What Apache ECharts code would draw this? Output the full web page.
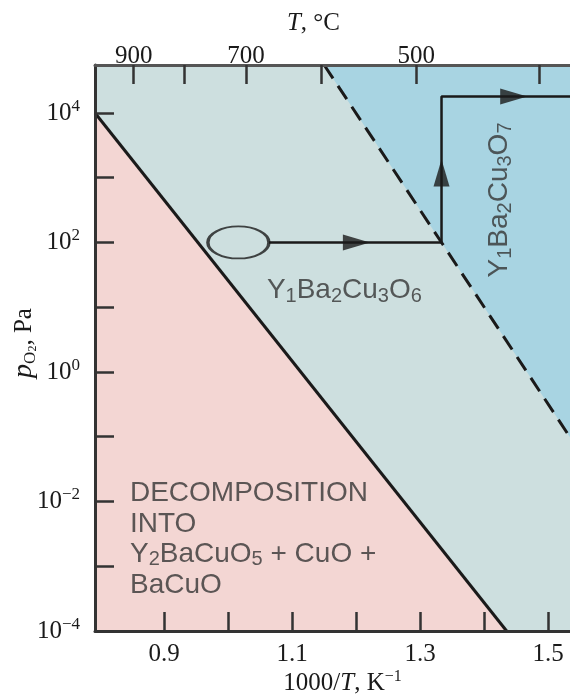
<!DOCTYPE html>
<html>
<head>
<meta charset="utf-8">
<script src="https://cdn.jsdelivr.net/npm/echarts@6/dist/echarts.min.js"></script>
<style>
  html, body { margin: 0; padding: 0; background: #fff; }
  #chart { width: 570px; height: 697px; }
</style>
</head>
<body>
<div id="chart"></div>
<script>
// Axis extents: reciprocal temperature 1000/T (K^-1) and oxygen partial pressure (Pa)
const invTRange = [0.792, 1.534];
const pressureRange = [1e-4, 5.5e4];

// Bottom axis: 1000/T ticks and labelled ticks
const invTTicks = [0.9, 1.0, 1.1, 1.2, 1.3, 1.4, 1.5];
const invTLabels = [0.9, 1.1, 1.3, 1.5];

// Top axis: temperature in °C
const tempTicksC = [900, 800, 700, 600, 500, 400];
const tempLabelsC = [900, 700, 500];

// Phase boundaries, [1000/T, p(O2) in Pa]
const decompositionBoundary = [[0.792, 1e4], [1.435, 1e-4]];
const oxidationBoundary = [[1.15, 5.5e4], [1.3333, 100], [1.534, 0.098]];

// Processing route: start region, path and direction arrows
const startRegion = [[1.016, 100]];
const routePath = [[1.0637, 100], [1.3333, 100], [1.3333, 17870], [1.534, 17870]];
const arrowsRight = [[1.2003, 100], [1.446, 17870]];
const arrowsUp = [[1.3333, 1183]];

// Region label anchors
const labelO6 = [1.0605, 18.4];
const labelO7 = [1.4243, 453];
const labelDecomp = [0.8466, 0.00259];

const SERIF = '"Liberation Serif", "Times New Roman", serif';
const SANS = '"Liberation Sans", Arial, sans-serif';
const INK = '#1a1a1a';
const AXIS = '#333';
const TEXT_IN = '#353535';

const PINK = '#f3d6d3';
const TEAL = '#cddfdf';
const BLUE = '#a8d4e2';

const inText = {
  m: { fontFamily: SANS, fontSize: 28, color: TEXT_IN, lineHeight: 32 },
  s: { fontFamily: SANS, fontSize: 20, color: TEXT_IN, lineHeight: 20, verticalAlign: 'bottom' }
};

const chart = echarts.init(document.getElementById('chart'), null, { renderer: 'canvas' });

chart.setOption({
  animation: false,
  backgroundColor: '#fff',
  grid: {
    left: 95, right: 0, top: 65, bottom: 66,
    outerBoundsMode: 'none',
    containLabel: false,
    show: true, backgroundColor: TEAL, borderWidth: 0
  },
  xAxis: [
    {
      type: 'value',
      position: 'bottom',
      min: invTRange[0], max: invTRange[1],
      z: 10,
      axisLine: { show: true, lineStyle: { color: AXIS, width: 3 } },
      axisTick: { show: true, inside: true, length: 19, customValues: invTTicks,
                  lineStyle: { color: AXIS, width: 2.5 } },
      axisLabel: { customValues: invTLabels, margin: 11,
                   formatter: v => v.toFixed(1),
                   fontFamily: SERIF, fontSize: 25, color: INK },
      splitLine: { show: false },
      name: '{n|1000/}{i|T}{n|, K}{e|\u22121}',
      nameLocation: 'middle',
      nameMoveOverlap: false,
      nameGap: 38,
      nameTextStyle: {
        padding: [0, 0, 0, 20],
        rich: {
          n: { fontFamily: SERIF, fontSize: 25, color: INK, lineHeight: 28 },
          i: { fontFamily: SERIF, fontSize: 25, fontStyle: 'italic', color: INK, lineHeight: 28 },
          e: { fontFamily: SERIF, fontSize: 16, color: INK, lineHeight: 16, verticalAlign: 'top' }
        }
      }
    },
    {
      type: 'value',
      position: 'top',
      min: invTRange[0], max: invTRange[1],
      z: 10,
      axisLine: { show: true, lineStyle: { color: '#555', width: 3 } },
      axisTick: { show: true, inside: true, length: 19,
                  customValues: tempTicksC.map(t => 1000 / (t + 273)),
                  lineStyle: { color: AXIS, width: 2.5 } },
      axisLabel: { customValues: tempLabelsC.map(t => 1000 / (t + 273)), margin: -4,
                   formatter: v => String(Math.round(1000 / v - 273)),
                   fontFamily: SERIF, fontSize: 25, color: INK },
      splitLine: { show: false },
      name: '{i|T}{n|, \u00B0C}',
      nameLocation: 'middle',
      nameMoveOverlap: false,
      nameGap: 29,
      nameTextStyle: {
        padding: [0, 38, 0, 0],
        rich: {
          n: { fontFamily: SERIF, fontSize: 25, color: INK },
          i: { fontFamily: SERIF, fontSize: 25, fontStyle: 'italic', color: INK }
        }
      }
    }
  ],
  yAxis: {
    type: 'log',
    logBase: 10,
    min: pressureRange[0], max: pressureRange[1],
    z: 10,
    axisLine: { show: true, lineStyle: { color: AXIS, width: 3 } },
    axisTick: { show: true, inside: true, length: 19, lineStyle: { color: AXIS, width: 2.5 } },
    axisLabel: {
      margin: 15,
      showMaxLabel: false,
      formatter: v => {
        const e = Math.log10(v);
        const r = Math.round(e);
        if (Math.abs(e - r) > 1e-6 || r % 2 !== 0) return '';
        return '{b|10}{e|' + (r < 0 ? '\u2212' + (-r) : r) + '}';
      },
      rich: {
        b: { fontFamily: SERIF, fontSize: 25, color: INK, lineHeight: 30 },
        e: { fontFamily: SERIF, fontSize: 17, color: INK, lineHeight: 17, verticalAlign: 'top' }
      }
    },
    splitLine: { show: false },
    minorTick: { show: false },
    name: '{i|p}{s|O}{ss|2}{n|, Pa}',
    nameLocation: 'middle',
    nameMoveOverlap: false,
    nameGap: 56,
    nameTextStyle: {
      padding: [0, 0, 0, 10],
      rich: {
        i: { fontFamily: SERIF, fontSize: 28, fontStyle: 'italic', color: INK, lineHeight: 30 },
        s: { fontFamily: SERIF, fontSize: 17, color: INK, lineHeight: 22, verticalAlign: 'bottom' },
        ss: { fontFamily: SERIF, fontSize: 12, color: INK, lineHeight: 14, verticalAlign: 'bottom' },
        n: { fontFamily: SERIF, fontSize: 25, color: INK, lineHeight: 30 }
      }
    }
  },
  series: [
    {
      // decomposition region below the solid boundary
      type: 'line',
      data: decompositionBoundary,
      symbol: 'none',
      lineStyle: { color: INK, width: 3 },
      areaStyle: { color: PINK, opacity: 1, origin: 'start' },
      z: 2,
      silent: true
    },
    {
      // Y1Ba2Cu3O7 region above the dashed boundary
      type: 'line',
      data: oxidationBoundary,
      symbol: 'none',
      lineStyle: { color: INK, width: 3, type: [16, 9] },
      areaStyle: { color: BLUE, opacity: 1, origin: 'end' },
      z: 2,
      silent: true
    },
    {
      type: 'line',
      data: routePath,
      symbol: 'none',
      lineStyle: { color: INK, width: 2.5 },
      z: 4,
      silent: true
    },
    {
      type: 'scatter',
      data: startRegion,
      symbol: 'circle',
      symbolSize: [61, 32],
      itemStyle: { color: 'rgba(0,0,0,0)', borderColor: INK, borderWidth: 2.5 },
      z: 5,
      silent: true
    },
    {
      type: 'scatter',
      data: arrowsRight.map(p => ({ value: p, symbolRotate: -90 }))
        .concat(arrowsUp.map(p => ({ value: p, symbolRotate: 0 }))),
      symbol: 'triangle',
      symbolSize: [16, 27],
      itemStyle: { color: INK },
      z: 5,
      silent: true
    },
    {
      type: 'scatter',
      symbolSize: 0,
      z: 6,
      silent: true,
      data: [
        {
          value: labelO6,
          label: { show: true, position: 'right', distance: 0,
                   formatter: '{m|Y}{s|1}{m|Ba}{s|2}{m|Cu}{s|3}{m|O}{s|6}', rich: inText }
        },
        {
          value: labelO7,
          label: { show: true, position: 'inside', rotate: 90,
                   formatter: '{m|Y}{s|1}{m|Ba}{s|2}{m|Cu}{s|3}{m|O}{s|7}', rich: inText }
        },
        {
          value: labelDecomp,
          label: { show: true, position: 'right', distance: 0, align: 'left',
                   formatter: '{m|DECOMPOSITION}\n{m|INTO}\n{m|Y}{s|2}{m|BaCuO}{s|5}{m| + CuO +}\n{m|BaCuO}',
                   rich: {
                     m: { fontFamily: SANS, fontSize: 28, color: TEXT_IN, lineHeight: 30.5 },
                     s: { fontFamily: SANS, fontSize: 20, color: TEXT_IN, lineHeight: 20, verticalAlign: 'bottom' }
                   } }
        }
      ]
    }
  ]
});
</script>
</body>
</html>
